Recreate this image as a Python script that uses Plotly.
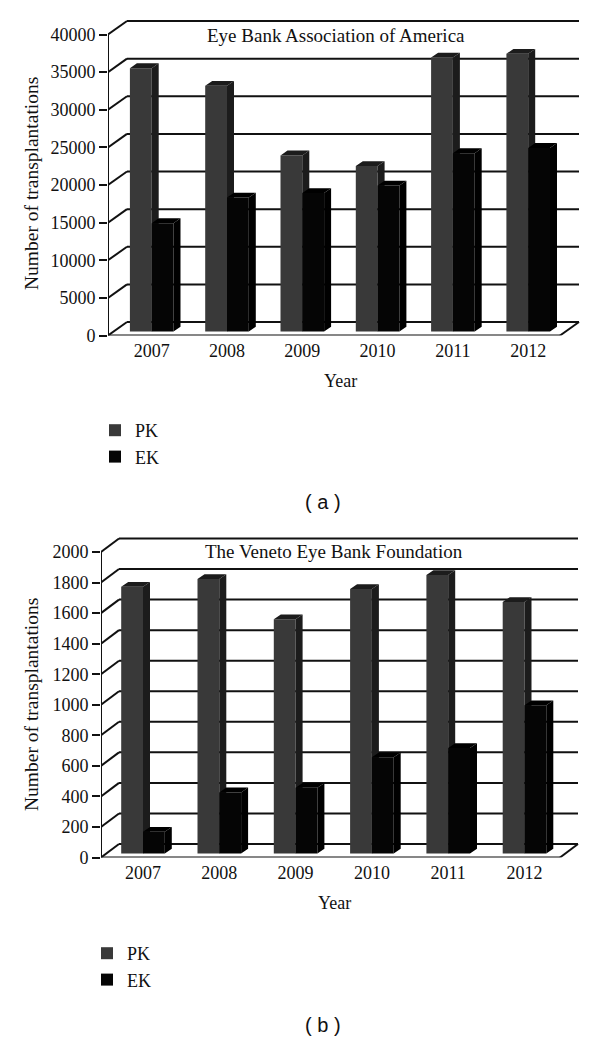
import plotly.graph_objects as go

WIDTH = 600
HEIGHT = 1042

YEARS = [2007, 2008, 2009, 2010, 2011, 2012]

# panel (a)
PK_A = [35000, 32650, 23400, 22000, 36400, 36900]
EK_A = [14400, 17800, 18400, 19400, 23700, 24400]
TICKS_A = [0, 5000, 10000, 15000, 20000, 25000, 30000, 35000, 40000]

# panel (b)
PK_B = [1746, 1797, 1534, 1731, 1823, 1646]
EK_B = [142, 400, 430, 630, 690, 970]
TICKS_B = [0, 200, 400, 600, 800, 1000, 1200, 1400, 1600, 1800, 2000]

PK_FRONT = "#393939"
PK_DARK = "#1c1c1c"
EK_FRONT = "#050505"
EK_DARK = "#000000"
SERIF = "Liberation Serif"

fig = go.Figure()


# ---------------------------------------
# One pseudo-3D bar panel
# ---------------------------------------
def side_and_top(x0, x1, values, base, dx, dy):
    side_x, side_y, top_x, top_y = [], [], [], []
    for year, value in zip(YEARS, values):
        left = year + x0
        right = year + x1
        y = base + value
        side_x += [right, right + dx, right + dx, right, right, None]
        side_y += [base, base + dy, y + dy, y, base, None]
        top_x += [left, right, right + dx, left + dx, left, None]
        top_y += [y, y, y + dy, y + dy, y, None]
    return side_x, side_y, top_x, top_y


def add_panel(n, pk, ek, ticks, left_px, right_px, top_px, zero_px, max_px, year_px,
              first_px, wall_dx, wall_dy, legend):
    main = 2 * n + 1
    over = 2 * n + 2
    x_name = "x" if n == 0 else f"x{main}"
    y_name = "y" if n == 0 else f"y{main}"
    x_over = f"x{over}"
    y_over = f"y{over}"

    y_scale = (zero_px - max_px) / ticks[-1]
    x_range = [YEARS[0] - (first_px - left_px) / year_px,
               YEARS[0] + (right_px - first_px) / year_px]
    y_range = [0, (zero_px - top_px) / y_scale]
    x_dom = [left_px / WIDTH, right_px / WIDTH]
    y_dom = [1 - zero_px / HEIGHT, 1 - top_px / HEIGHT]

    bar_w = 21.8 / year_px
    bar_dx = 7 / year_px
    bar_dy = 4.8 / y_scale
    base = 4 / y_scale
    wall_x = wall_dx / year_px
    wall_y = wall_dy / y_scale
    x_end = x_range[0] + (560 - left_px) / year_px

    axis_font = dict(family=SERIF, size=18, color="#111111")
    fig.update_layout({
        f"xaxis{main if n else ''}": dict(
            domain=x_dom, range=x_range, anchor=y_name, tickvals=YEARS,
            tickfont=axis_font, ticks="", showgrid=False, zeroline=False,
            showline=False, ticklabelstandoff=2, tickformat="d",
        ),
        f"yaxis{main if n else ''}": dict(
            domain=y_dom, range=y_range, anchor=x_name, tickvals=ticks,
            tickfont=axis_font, ticks="outside", ticklen=8, tickwidth=2,
            tickcolor="#111111", showgrid=False, zeroline=False, showline=False,
            tickformat="d",
        ),
        f"xaxis{over}": dict(overlaying=x_name, anchor=y_over, range=x_range, visible=False),
        f"yaxis{over}": dict(overlaying=y_name, anchor=x_over, range=y_range, visible=False),
    })

    # back wall, floor and the diagonals to each tick
    line = dict(color="#111111", width=2)
    shapes = []
    for v in ticks:
        shapes.append(dict(type="line", xref=x_name, yref=y_name, layer="below", line=line,
                           x0=x_range[0] + wall_x, x1=x_end + wall_x,
                           y0=v + wall_y, y1=v + wall_y))
        shapes.append(dict(type="line", xref=x_name, yref=y_name, layer="below", line=line,
                           x0=x_range[0], x1=x_range[0] + wall_x, y0=v, y1=v + wall_y))
    shapes.append(dict(type="line", xref=x_name, yref=y_name, layer="below", line=line,
                       x0=x_end, x1=x_end + wall_x, y0=0, y1=wall_y))
    for s in shapes:
        fig.add_shape(s)

    # front edges of the box
    fig.add_trace(go.Scatter(x=[x_range[0], x_range[0], None, x_range[0], x_end],
                             y=[0, ticks[-1], None, 0, 0], mode="lines", line=line,
                             cliponaxis=False, showlegend=False, hoverinfo="skip",
                             xaxis=x_name, yaxis=y_name))

    # PK goes on the base axes, EK on the overlay so it hides the PK side faces
    series = [("PK", pk, -bar_w, PK_FRONT, PK_DARK, x_name, y_name),
              ("EK", ek, 0, EK_FRONT, EK_DARK, x_over, y_over)]
    for name, values, offset, front, dark, xa, ya in series:
        fig.add_trace(go.Bar(x=YEARS, y=values, base=base, width=bar_w, offset=offset,
                             name=name, marker=dict(color=front, line=dict(width=0)),
                             legend=legend, legendgroup=name, xaxis=xa, yaxis=ya))
        sx, sy, tx, ty = side_and_top(offset, offset + bar_w, values, base, bar_dx, bar_dy)
        for px_x, px_y in [(sx, sy), (tx, ty)]:
            fig.add_trace(go.Scatter(x=px_x, y=px_y, mode="lines", fill="toself",
                                     fillcolor=dark, line=dict(width=0), showlegend=False,
                                     hoverinfo="skip", xaxis=xa, yaxis=ya))


add_panel(0, PK_A, EK_A, TICKS_A, 108, 582, 19, 335.5, 34.5, 75.3, 151.7, 19, 13.5, "legend")
add_panel(1, PK_B, EK_B, TICKS_B, 101, 582, 537, 857.5, 552, 76.3, 143, 18, 13.5, "legend2")

legend_style = dict(font=dict(family=SERIF, size=18, color="#111111"), xanchor="left",
                    yanchor="top", bgcolor="rgba(0,0,0,0)", tracegroupgap=1,
                    traceorder="normal", itemclick=False)


def note(text, x, y, size=18, family=SERIF, angle=0):
    fig.add_annotation(text=text, x=x / WIDTH, y=1 - y / HEIGHT, xref="paper", yref="paper",
                       showarrow=False, textangle=angle, xanchor="center", yanchor="middle",
                       font=dict(family=family, size=size, color="#111111"))


note("Eye Bank Association of America", 336, 35, size=19)
note("Number of transplantations", 31, 184, size=19.5, angle=-90)
note("Year", 340, 381)
note("( a )", 323, 502, size=20, family="Liberation Sans")

note("The Veneto Eye Bank Foundation", 334, 551, size=19)
note("Number of transplantations", 31, 705, size=19.5, angle=-90)
note("Year", 334, 903)
note("( b )", 323, 1025, size=20, family="Liberation Sans")

fig.update_layout(
    width=WIDTH,
    height=HEIGHT,
    margin=dict(l=0, r=0, t=0, b=0, autoexpand=False),
    paper_bgcolor="white",
    plot_bgcolor="rgba(0,0,0,0)",
    barmode="overlay",
    hovermode=False,
    legend=dict(x=95 / WIDTH, y=1 - 412 / HEIGHT, **legend_style),
    legend2=dict(x=87 / WIDTH, y=1 - 935 / HEIGHT, **legend_style),
)

# the page's default body margin would push the figure off by 8px
fig.write_html("out.html", config={"displayModeBar": False},
               post_script="document.body.style.margin='0';")
